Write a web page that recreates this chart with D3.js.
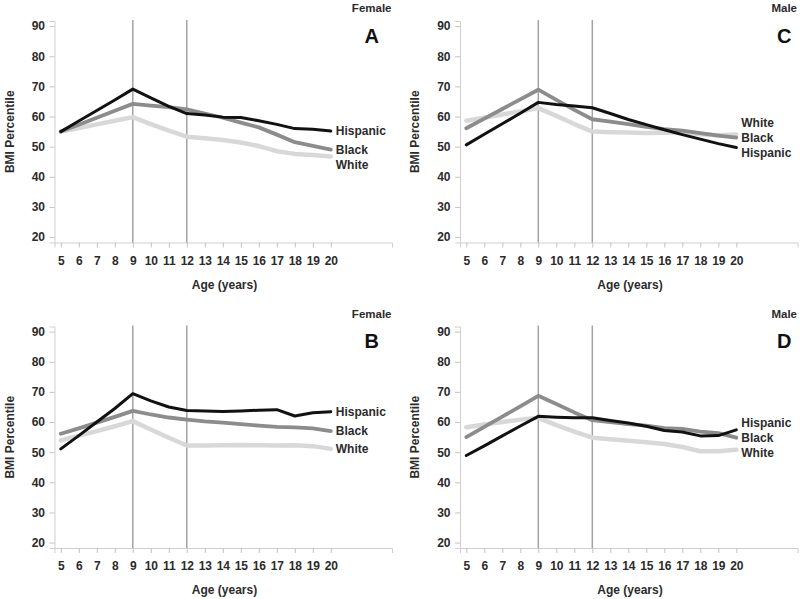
<!DOCTYPE html>
<html>
<head>
<meta charset="utf-8">
<script src="https://cdn.jsdelivr.net/npm/d3@7"></script>
<style>
  html, body { margin: 0; padding: 0; background: #fff; }
  svg { display: block; font-family: "Liberation Sans", Arial, sans-serif; }
</style>
</head>
<body>
<svg id="chart" width="800" height="599"></svg>
<script>
// ---------- data ----------
const ages = [5, 6, 7, 8, 9, 10, 11, 12, 13, 14, 15, 16, 17, 18, 19, 20];
const yTicks = [20, 30, 40, 50, 60, 70, 80, 90];
const refAges = [9, 12];
const seriesNames = ["White", "Black", "Hispanic"];

const panelA_hispanic = [55, 58.5, 62, 65.5, 69.1, 66.2, 63.4, 61, 60.5, 59.8, 59.7, 58.6, 57.4, 56, 55.8, 55.2];
const panelA_black    = [55, 57.3, 59.6, 61.9, 64.2, 63.6, 63.1, 62.4, 61, 59.6, 58, 56.4, 54, 51.5, 50.3, 49];
const panelA_white    = [55, 56.2, 57.4, 58.6, 59.8, 57.5, 55.3, 53.3, 52.8, 52.2, 51.4, 50.2, 48.5, 47.6, 47.2, 46.7];

const panelB_hispanic = [51.1, 55.5, 60, 64.5, 69.4, 67, 65, 63.8, 63.7, 63.5, 63.7, 63.9, 64.1, 62, 63.1, 63.4];
const panelB_black    = [56.1, 57.9, 59.8, 61.7, 63.7, 62.5, 61.5, 60.8, 60.2, 59.8, 59.3, 58.8, 58.4, 58.2, 57.9, 57];
const panelB_white    = [53.9, 55.5, 57, 58.6, 60.3, 57.5, 54.8, 52.2, 52.2, 52.3, 52.4, 52.3, 52.2, 52.3, 52, 51.1];

const panelC_hispanic = [50.6, 54.1, 57.6, 61.1, 64.7, 64, 63.5, 62.9, 61, 59, 57.3, 55.6, 54, 52.5, 51, 49.7];
const panelC_black    = [56.1, 59.3, 62.5, 65.7, 68.9, 65.5, 62.2, 59.1, 58.3, 57.5, 56.6, 55.8, 55.3, 54.5, 53.7, 53];
const panelC_white    = [58.6, 59.6, 60.7, 61.7, 62.8, 60.2, 57.5, 55, 54.8, 54.7, 54.5, 54.6, 54.8, 54.1, 53.8, 54];

const panelD_hispanic = [48.9, 52.1, 55.4, 58.7, 61.9, 61.6, 61.4, 61.4, 60.5, 59.7, 58.6, 57.2, 56.7, 55.4, 55.5, 57.4];
const panelD_black    = [55, 58.4, 61.8, 65.2, 68.7, 66, 63.2, 60.6, 60, 59.3, 58.8, 58, 57.7, 56.8, 56.3, 54.8];
const panelD_white    = [58.3, 59.2, 60, 60.8, 61.4, 59, 56.8, 54.8, 54.3, 53.8, 53.3, 52.7, 51.7, 50.3, 50.3, 50.8];

const panelLetters = ["A", "C", "B", "D"];
const panelSexes = ["Female", "Male", "Female", "Male"];

// ---------- layout / style ----------
const panels = [
  { letter: panelLetters[0], sex: panelSexes[0], x0: 54.5, y0: 21,
    series: { White: panelA_white, Black: panelA_black, Hispanic: panelA_hispanic } },
  { letter: panelLetters[1], sex: panelSexes[1], x0: 460, y0: 21,
    series: { White: panelC_white, Black: panelC_black, Hispanic: panelC_hispanic } },
  { letter: panelLetters[2], sex: panelSexes[2], x0: 54.5, y0: 326.5,
    series: { White: panelB_white, Black: panelB_black, Hispanic: panelB_hispanic } },
  { letter: panelLetters[3], sex: panelSexes[3], x0: 460, y0: 326.5,
    series: { White: panelD_white, Black: panelD_black, Hispanic: panelD_hispanic } }
];
const W = 337.5, H = 221.5;
const style = {
  White:    { color: "#d8d8d8", width: 4.5 },
  Black:    { color: "#8c8c8c", width: 3.8 },
  Hispanic: { color: "#111111", width: 3 }
};
const textColor = "#2b2b2b";

const svg = d3.select("#chart");
svg.append("rect").attr("width", 800).attr("height", 599).attr("fill", "#fff");

const x = d3.scaleLinear().domain([4.65, 23.4]).range([0, W]);
const y = d3.scaleLinear().domain([18.2, 91.7]).range([H, 0]);

panels.forEach(p => {
  const g = svg.append("g").attr("transform", `translate(${p.x0},${p.y0})`);

  // axes
  const yAxis = d3.axisLeft(y).tickValues(yTicks).tickSize(5).tickPadding(4.5).tickFormat(d3.format("d"));
  const gy = g.append("g").call(yAxis);
  const xAxis = d3.axisBottom(x).tickValues(ages).tickSize(5).tickPadding(8.5).tickFormat(d3.format("d"));
  const gx = g.append("g").attr("transform", `translate(0,${H})`).call(xAxis);
  [gx, gy].forEach(a => {
    a.select(".domain").attr("stroke", "#cfcfcf").attr("stroke-width", 1);
    a.selectAll(".tick line").attr("stroke", "#c4c4c4");
    a.selectAll(".tick text").attr("fill", textColor)
      .style("font-size", "12px").style("font-weight", "bold")
      .style("font-family", "'Liberation Sans', Arial, sans-serif");
  });

  // reference lines
  g.selectAll(".ref").data(refAges).enter().append("line")
    .attr("x1", d => x(d)).attr("x2", d => x(d))
    .attr("y1", -1).attr("y2", H)
    .attr("stroke", "#a3a3a3").attr("stroke-width", 1.5);

  // lines
  const line = d3.line().x((d, i) => x(ages[i])).y(d => y(d));
  seriesNames.forEach(name => {
    g.append("path").datum(p.series[name])
      .attr("fill", "none")
      .attr("stroke", style[name].color)
      .attr("stroke-width", style[name].width)
      .attr("stroke-linejoin", "round")
      .attr("stroke-linecap", "round")
      .attr("d", line);
  });

  // end labels: middle label stays at its line end, others pushed outward
  const spacing = 15;
  const labs = seriesNames.map(name => {
    const vals = p.series[name];
    return { name, y: y(vals[vals.length - 1]) };
  }).sort((a, b) => a.y - b.y);
  const mid = Math.floor(labs.length / 2);
  labs[mid].ly = labs[mid].y;
  for (let i = mid - 1; i >= 0; i--) labs[i].ly = Math.min(labs[i].y, labs[i + 1].ly - spacing);
  for (let i = mid + 1; i < labs.length; i++) labs[i].ly = Math.max(labs[i].y, labs[i - 1].ly + spacing);

  g.selectAll(".lab").data(labs).enter().append("text")
    .attr("x", x(20) + 5)
    .attr("y", d => d.ly)
    .attr("dy", "0.36em")
    .attr("fill", textColor)
    .style("font-size", "12px").style("font-weight", "bold")
    .text(d => d.name);

  // axis titles
  g.append("text")
    .attr("x", 170).attr("y", H + 46)
    .attr("text-anchor", "middle")
    .attr("fill", textColor)
    .style("font-size", "12px").style("font-weight", "bold")
    .text("Age (years)");
  g.append("text")
    .attr("transform", `translate(-45,${H / 2}) rotate(-90)`)
    .attr("text-anchor", "middle")
    .attr("dy", "0.36em")
    .attr("fill", textColor)
    .style("font-size", "12px").style("font-weight", "bold")
    .text("BMI Percentile");

  // sex + panel letter
  const sexT = g.append("text")
    .attr("x", 337).attr("y", -8.7)
    .attr("text-anchor", "end")
    .attr("fill", textColor)
    .style("font-size", "11.5px").style("font-weight", "bold")
    .text(p.sex);
  const sw = sexT.node().getComputedTextLength();
  g.append("text")
    .attr("x", 337 - sw / 2).attr("y", 21.5)
    .attr("text-anchor", "middle")
    .attr("fill", "#111")
    .style("font-size", "20px").style("font-weight", "bold")
    .text(p.letter);
});
</script>
</body>
</html>
